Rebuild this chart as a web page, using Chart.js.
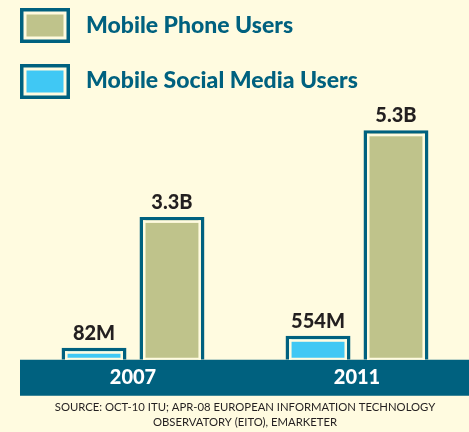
<!DOCTYPE html>
<html>
<head>
<meta charset="utf-8">
<title>Mobile Phone vs Mobile Social Media Users</title>
<script src="https://cdn.jsdelivr.net/npm/chart.js@4"></script>
<style>
  html, body { margin: 0; padding: 0; background: #fffbe0; }
  #wrap { width: 469px; height: 432px; }
</style>
</head>
<body>
<div id="wrap"><canvas id="chart"></canvas></div>
<script>
// values in billions of users
const years = ['2007', '2011'];
const phoneUsers = [3.3, 5.3];
const socialUsers = [0.082, 0.554];
const phoneLabels = ['3.3B', '5.3B'];
const socialLabels = ['82M', '554M'];
const seriesNames = ['Mobile Phone Users', 'Mobile Social Media Users'];
const sourceLines = [
  'SOURCE: OCT-10 ITU; APR-08 EUROPEAN INFORMATION TECHNOLOGY',
  'OBSERVATORY (EITO), EMARKETER'
];

const CREAM = '#fffbe0';
const TEAL = '#00617f';
const OLIVE = '#bfc38b';
const BLUE = '#40c8f4';
const INK = '#231f20';
const FONT = 'Lato, "Open Sans", sans-serif';

// teal band behind the year labels
const bandPlugin = {
  id: 'band',
  beforeDraw(chart) {
    const { ctx, chartArea, scales } = chart;
    ctx.save();
    ctx.fillStyle = TEAL;
    ctx.fillRect(chartArea.left - 1, chartArea.bottom, chart.width - chartArea.left + 1, scales.x.bottom - chartArea.bottom);
    ctx.restore();
  }
};

// cream gap inside each bar's outline + value labels on top
const barDecor = {
  id: 'barDecor',
  afterDatasetsDraw(chart) {
    const { ctx } = chart;
    const labelSets = [socialLabels, phoneLabels];
    ctx.save();
    chart.data.datasets.forEach((ds, i) => {
      chart.getDatasetMeta(i).data.forEach((bar, j) => {
        const { x, y, base, width } = bar.getProps(['x', 'y', 'base', 'width'], true);
        const l = x - width / 2, r = x + width / 2;
        const b = 3.5, g = 2.5;
        ctx.fillStyle = CREAM;
        ctx.fillRect(l + b, y + b, g, base - y - b);
        ctx.fillRect(r - b - g, y + b, g, base - y - b);
        ctx.fillRect(l + b, y + b, width - 2 * b, g);
        ctx.fillRect(l + b, base - 2, width - 2 * b, 2);

        ctx.fillStyle = INK;
        ctx.font = '900 20px ' + FONT;
        ctx.textAlign = 'center';
        ctx.textBaseline = 'alphabetic';
        ctx.fillText(labelSets[i][j], x, y - 8);
      });
    });
    ctx.restore();
  }
};

// stacked legend in the top-left corner
const legendBoxes = {
  id: 'legendBoxes',
  afterDraw(chart) {
    const { ctx } = chart;
    const fills = [OLIVE, BLUE];
    const tops = [8, 64];
    const baselines = [33, 88];
    ctx.save();
    seriesNames.forEach((name, i) => {
      const x = 20, y = tops[i], w = 50, h = 35;
      ctx.fillStyle = TEAL;
      ctx.fillRect(x, y, w, h);
      ctx.fillStyle = CREAM;
      ctx.fillRect(x + 3.5, y + 3.5, w - 7, h - 7);
      ctx.fillStyle = fills[i];
      ctx.fillRect(x + 6.5, y + 6.5, w - 13, h - 13);

      ctx.fillStyle = TEAL;
      ctx.font = '900 23px ' + FONT;
      ctx.textAlign = 'left';
      ctx.textBaseline = 'alphabetic';
      ctx.fillText(name, 86, baselines[i]);
    });
    ctx.restore();
  }
};

new Chart(document.getElementById('chart'), {
  type: 'bar',
  data: {
    labels: years,
    datasets: [
      {
        label: seriesNames[1],
        data: socialUsers,
        backgroundColor: BLUE,
        borderColor: TEAL,
        borderWidth: 3.5,
        minBarLength: 12
      },
      {
        label: seriesNames[0],
        data: phoneUsers,
        backgroundColor: OLIVE,
        borderColor: TEAL,
        borderWidth: 3.5
      }
    ]
  },
  options: {
    responsive: true,
    maintainAspectRatio: false,
    animation: false,
    layout: { padding: { top: 100, left: 21, right: 0, bottom: 0 } },
    datasets: {
      bar: { categoryPercentage: 0.696, barPercentage: 0.833, borderSkipped: 'start' }
    },
    scales: {
      x: {
        grid: { display: false, drawTicks: false },
        border: { display: false },
        ticks: { color: '#ffffff', font: { family: FONT, size: 20, weight: 900 }, padding: 6 }
      },
      y: { display: false, min: 0, max: 6 }
    },
    plugins: {
      legend: { display: false },
      tooltip: { enabled: false },
      title: {
        display: true,
        position: 'bottom',
        text: sourceLines,
        color: INK,
        font: { family: FONT, size: 11.3, weight: 'normal', lineHeight: 1.25 },
        padding: { top: 5, bottom: 3 }
      }
    }
  },
  plugins: [bandPlugin, barDecor, legendBoxes]
});
</script>
</body>
</html>
